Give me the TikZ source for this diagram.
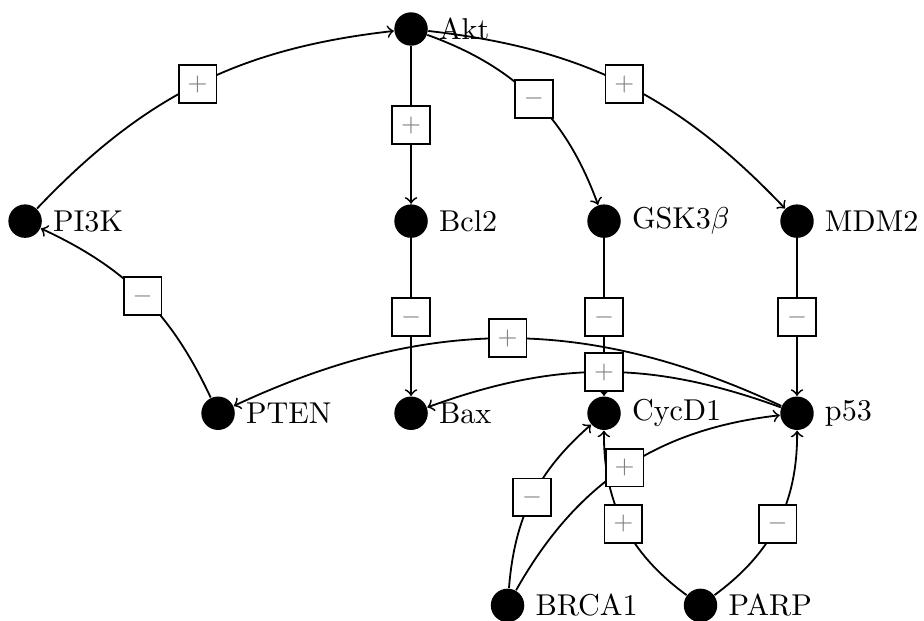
\documentclass[tikz,border=0pt]{standalone}
\usepackage{amssymb}
\usepackage{tikz}

\tikzset{
  gene/.style={circle, fill=black, minimum size=0.39cm, inner sep=0pt},
  sign/.style={draw, fill=white, minimum size=0.44cm, inner sep=0pt, font=\footnotesize, text=gray},
  link/.style={->, semithick}
}

\begin{document}
\begin{tikzpicture}[x=2.25cm, y=2.24cm]
  \useasboundingbox (-0.13,-0.078) rectangle (4.658,3.151);
  % Define the genes
  \foreach \n/\x/\y/\txt in {akt/2/3/Akt, pi3k/0/2/PI3K, bcl2/2/2/Bcl2, gsk/3/2/GSK3$\beta$,
      mdm2/4/2/MDM2, pten/1/1/PTEN, bax/2/1/Bax, cycd1/3/1/CycD1, p53/4/1/p53,
      brca1/2.5/0/BRCA1, parp/3.5/0/PARP}
    \node[gene, label={right:\txt}] (\n) at (\x,\y) {};
  % Add the interactions
  \draw[link] (pi3k) to[bend left=20] node[sign] {$+$} (akt);
  \draw[link] (akt) -- node[sign] {$+$} (bcl2);
  \draw[link] (akt) to[bend left=25] node[sign] {$-$} (gsk);
  \draw[link] (akt) to[bend left=20] node[sign] {$+$} (mdm2);
  \draw[link] (bcl2) -- node[sign] {$-$} (bax);
  \draw[link] (gsk) -- node[sign] {$-$} (cycd1);
  \draw[link] (mdm2) -- node[sign] {$-$} (p53);
  \draw[link] (pten) to[bend right=20] node[sign] {$-$} (pi3k);
  \draw[link] (p53) to[bend right=25] node[sign] {$+$} (pten);
  \draw[link] (p53) to[bend right=20] node[sign] {$+$} (bax);
  \draw[link] (brca1) to[bend left=22] node[sign] {$-$} (cycd1);
  \draw[link] (parp) to[bend left=27] node[sign] {$+$} (cycd1);
  \draw[link] (brca1) to[bend left=27] node[sign] {$+$} (p53);
  \draw[link] (parp) to[bend right=27] node[sign] {$-$} (p53);
\end{tikzpicture}
\end{document}
